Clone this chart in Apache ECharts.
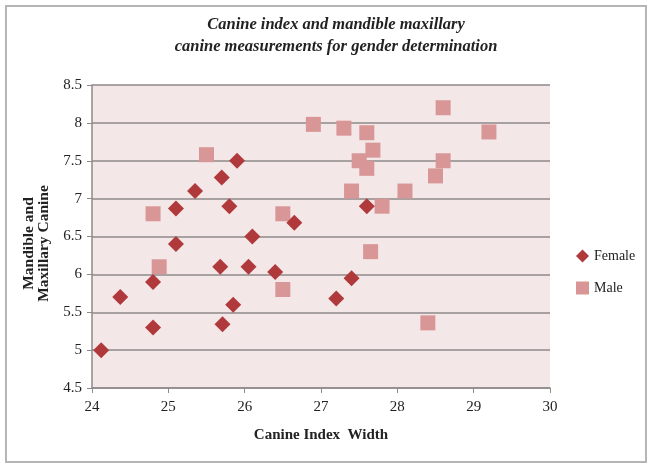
<!DOCTYPE html>
<html>
<head>
<meta charset="utf-8">
<script src="https://cdn.jsdelivr.net/npm/echarts@6/dist/echarts.min.js"></script>
<style>
  html, body { margin: 0; padding: 0; background: #fff; }
  #chart { width: 650px; height: 464px; }
</style>
</head>
<body>
<div id="chart"></div>
<script>
// values
const femaleX = [24.12, 24.37, 24.8, 24.8, 25.1, 25.1, 25.35, 25.7, 25.9, 25.8,
                 25.68, 25.71, 25.85, 26.05, 26.1, 26.4, 26.65, 27.6, 27.4, 27.2];
const femaleY = [5.0, 5.7, 5.9, 5.3, 6.87, 6.4, 7.1, 7.28, 7.5, 6.9,
                 6.1, 5.34, 5.6, 6.1, 6.5, 6.03, 6.68, 6.9, 5.95, 5.68];
const maleX = [24.8, 25.5, 26.5, 26.9, 24.88, 26.5, 27.3, 27.6, 27.68, 27.5,
               27.6, 27.4, 27.8, 28.1, 28.6, 28.6, 28.5, 29.2, 27.65, 28.4];
const maleY = [6.8, 7.58, 6.8, 7.98, 6.1, 5.8, 7.93, 7.87, 7.64, 7.5,
               7.4, 7.1, 6.9, 7.1, 8.2, 7.5, 7.3, 7.88, 6.3, 5.36];
const seriesNames = ['Female', 'Male'];

const serif = "'Liberation Serif', 'DejaVu Serif', serif";
const C = {
  female: '#b0393b', male: '#d99697',
  plotBg: '#f4e7e8', grid: '#8f8a8a', text: '#222'
};

const zip = (xs, ys) => xs.map((x, i) => [x, ys[i]]);

const chart = echarts.init(document.getElementById('chart'));
chart.setOption({
  animation: false,
  backgroundColor: '#fff',
  title: {
    text: 'Canine index and mandible maxillary\ncanine measurements for gender determination',
    left: 331, top: 9, textAlign: 'center',
    textStyle: { fontFamily: serif, fontSize: 16.5, fontStyle: 'italic', fontWeight: 'bold',
                 color: C.text, lineHeight: 22 }
  },
  graphic: [{
    type: 'rect', left: 5, top: 5, z: -1,
    shape: { width: 640, height: 456 },
    style: { fill: 'transparent', stroke: '#b5b5b5', lineWidth: 2 }
  }],
  grid: { left: 92, right: 100, top: 85, bottom: 76, show: true,
          backgroundColor: C.plotBg, borderWidth: 0 },
  legend: {
    orient: 'vertical', left: 571, top: 244, itemGap: 18,
    itemWidth: 13, itemHeight: 13,
    textStyle: { fontFamily: serif, fontSize: 14, color: C.text },
    data: [
      { name: 'Female', icon: 'diamond' },
      { name: 'Male', icon: 'rect' }
    ]
  },
  xAxis: {
    type: 'value', min: 24, max: 30, interval: 1,
    name: 'Canine Index  Width', nameLocation: 'middle', nameGap: 40,
    nameTextStyle: { fontFamily: serif, fontSize: 15, fontWeight: 'bold', color: C.text },
    axisLine: { show: true, lineStyle: { color: C.grid, width: 1.5 } },
    axisTick: { show: true, length: 5, lineStyle: { color: C.grid } },
    axisLabel: { fontFamily: serif, fontSize: 15, color: C.text, margin: 12 },
    splitLine: { show: false }
  },
  yAxis: {
    type: 'value', min: 4.5, max: 8.5, interval: 0.5,
    name: 'Mandible and\nMaxillary Canine', nameLocation: 'middle', nameGap: 34,
    nameTextStyle: { fontFamily: serif, fontSize: 15.5, fontWeight: 'bold', color: C.text,
                     lineHeight: 15, padding: [0, 14, 0, 0] },
    axisLine: { show: true, lineStyle: { color: C.grid, width: 1.5 } },
    axisTick: { show: true, length: 5, lineStyle: { color: C.grid } },
    axisLabel: { fontFamily: serif, fontSize: 15, color: C.text, margin: 10 },
    splitLine: { show: true, lineStyle: { color: C.grid, width: 1.5 } }
  },
  series: [
    {
      name: seriesNames[0], type: 'scatter', symbol: 'diamond', symbolSize: 16,
      itemStyle: { color: C.female, opacity: 1 },
      data: zip(femaleX, femaleY), z: 3
    },
    {
      name: seriesNames[1], type: 'scatter', symbol: 'rect', symbolSize: 15,
      itemStyle: { color: C.male, opacity: 1 },
      data: zip(maleX, maleY), z: 2
    }
  ]
});
</script>
</body>
</html>
